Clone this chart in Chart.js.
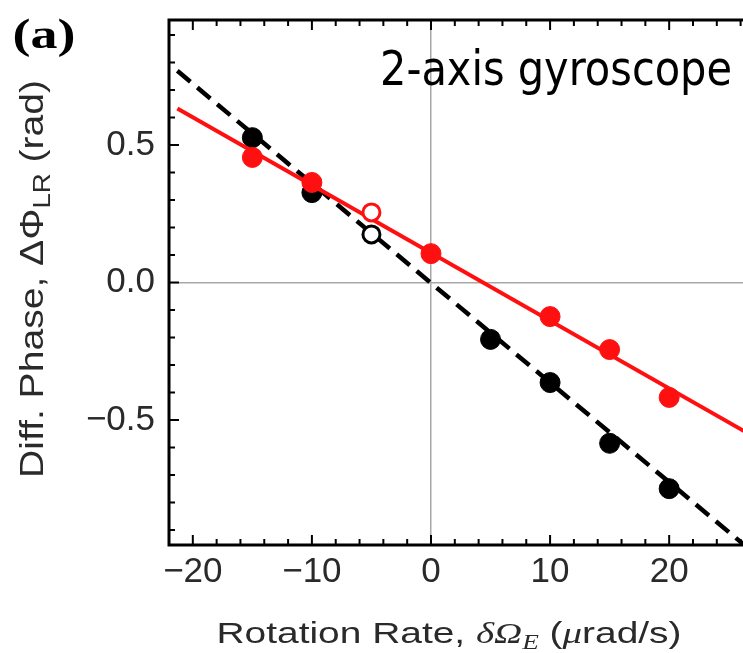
<!DOCTYPE html>
<html>
<head>
<meta charset="utf-8">
<script src="https://cdn.jsdelivr.net/npm/chart.js@4.4.0/dist/chart.umd.min.js"></script>
<style>
  html, body { margin: 0; padding: 0; background: #fff; }
  #wrap { width: 743px; height: 653px; }
</style>
</head>
<body>
<div id="wrap"><canvas id="chart" width="743" height="653"></canvas></div>
<script>
// measured points (rotation rate in urad/s, phase in rad)
const blackX = [-15, -10, 5, 10, 15, 20];
const blackY = [0.527, 0.327, -0.207, -0.364, -0.585, -0.75];
const redX = [-15, -10, 0, 10, 15, 20];
const redY = [0.455, 0.364, 0.105, -0.124, -0.244, -0.418];
// hollow points
const openX = [-5];
const openBlackY = [0.175];
const openRedY = [0.255];
// fitted lines, end points
const fitX = [-21.3, 27];
const fitBlackY = [0.77, -0.98];
const fitRedY = [0.633, -0.558];

const xTicks = [-20, -10, 0, 10, 20];
const xTickLabels = ['\u221220', '\u221210', '0', '10', '20'];
const yTicks = [-0.5, 0, 0.5];
const yTickLabels = ['\u22120.5', '0.0', '0.5'];

const RED = '#ff1010';
const pts = (xs, ys) => xs.map((x, i) => ({ x: x, y: ys[i] }));

// draws a run of text pieces, stretched to a given width
function drawRich(ctx, segs, x, y, width) {
    let w = 0;
    segs.forEach(s => { ctx.font = s.font; s.w = ctx.measureText(s.t).width; w += s.w; });
    const sx = width / w;
    ctx.save();
    ctx.translate(x - width / 2, y);
    ctx.scale(sx, 1);
    let cx = 0;
    segs.forEach(s => {
        ctx.font = s.font;
        ctx.fillText(s.t, cx, s.dy || 0);
        cx += s.w;
    });
    ctx.restore();
}

const frame = {
    id: 'frame',
    afterDatasetsDraw(chart) {
        const ctx = chart.ctx, a = chart.chartArea;
        const xs = chart.scales.x, ys = chart.scales.y;
        ctx.save();
        ctx.strokeStyle = '#000';
        ctx.lineWidth = 3;
        ctx.beginPath();
        ctx.moveTo(a.right + 2, a.top); ctx.lineTo(a.left, a.top);
        ctx.lineTo(a.left, a.bottom); ctx.lineTo(a.right + 2, a.bottom);
        ctx.stroke();
        ctx.lineWidth = 2;
        ctx.beginPath();
        for (let k = -11; k <= 13; k++) {
            const px = xs.getPixelForValue(k * 2);
            if (px < a.left + 2 || px > a.right) continue;
            const len = (k * 2) % 10 === 0 ? 10 : 6;
            ctx.moveTo(px, a.bottom); ctx.lineTo(px, a.bottom - len);
            ctx.moveTo(px, a.top); ctx.lineTo(px, a.top + len);
        }
        for (let k = -9; k <= 9; k++) {
            const py = ys.getPixelForValue(k / 10);
            const len = k % 5 === 0 ? 10 : 6;
            ctx.moveTo(a.left, py); ctx.lineTo(a.left + len, py);
        }
        ctx.stroke();
        ctx.restore();
    },
    afterDraw(chart) {
        const ctx = chart.ctx;
        ctx.save();
        ctx.fillStyle = '#000';
        ctx.textBaseline = 'alphabetic';
        drawRich(ctx, [{ t: '(a)', font: 'bold 42px "Liberation Serif"' }], 44, 48, 63);
        drawRich(ctx, [{ t: '2-axis gyroscope', font: '48px "DejaVu Sans"' }], 556, 85, 352);

        ctx.fillStyle = '#2a2a2a';
        const sans = '"Liberation Sans"';
        drawRich(ctx, [
            { t: 'Rotation Rate, ', font: '30px ' + sans },
            { t: '\u03b4\u03a9', font: 'italic 30px "Liberation Serif"' },
            { t: 'E', font: 'italic 21px "Liberation Serif"', dy: 6 },
            { t: ' (', font: '30px ' + sans },
            { t: '\u03bc', font: 'italic 30px "Liberation Serif"' },
            { t: 'rad/s)', font: '30px ' + sans }
        ], 449, 643, 465);

        ctx.translate(43, 279);
        ctx.rotate(-Math.PI / 2);
        drawRich(ctx, [
            { t: 'Diff. Phase, \u0394\u03a6', font: '34px ' + sans },
            { t: 'LR', font: '24px ' + sans, dy: 7 },
            { t: ' (rad)', font: '34px ' + sans }
        ], 0, 0, 398);
        ctx.restore();
    }
};

const tickFont = { family: 'Liberation Sans', size: 35 };
const zeroGrid = c => (c.tick && c.tick.value === 0) ? '#a8a8a8' : 'rgba(0,0,0,0)';
const noPad = s => { s.paddingTop = 0; s.paddingBottom = 0; s.paddingLeft = 0; s.paddingRight = 0; };

new Chart(document.getElementById('chart').getContext('2d'), {
    type: 'scatter',
    data: {
        datasets: [
            {
                label: 'red hollow',
                data: pts(openX, openRedY),
                pointRadius: 8.5, pointBorderWidth: 3,
                pointBackgroundColor: '#fff', pointBorderColor: RED,
                order: 0
            },
            {
                label: 'red',
                data: pts(redX, redY),
                pointRadius: 10, pointBorderWidth: 1,
                pointBackgroundColor: RED, pointBorderColor: RED,
                order: 1
            },
            {
                label: 'red fit',
                data: pts(fitX, fitRedY),
                showLine: true, borderColor: RED, borderWidth: 4,
                pointRadius: 0,
                order: 2
            },
            {
                label: 'black hollow',
                data: pts(openX, openBlackY),
                pointRadius: 8.5, pointBorderWidth: 3,
                pointBackgroundColor: '#fff', pointBorderColor: '#000',
                order: 3
            },
            {
                label: 'black',
                data: pts(blackX, blackY),
                pointRadius: 10, pointBorderWidth: 1,
                pointBackgroundColor: '#000', pointBorderColor: '#000',
                order: 4
            },
            {
                label: 'black fit',
                data: pts(fitX, fitBlackY),
                showLine: true, borderColor: '#000', borderWidth: 4.5,
                borderDash: [17, 9],
                pointRadius: 0,
                order: 5
            }
        ]
    },
    options: {
        responsive: false,
        animation: false,
        layout: { autoPadding: false, padding: { top: 20, right: 0, left: 0, bottom: 0 } },
        plugins: { legend: { display: false }, tooltip: { enabled: false } },
        scales: {
            x: {
                type: 'linear', min: -22, max: 26.2,
                afterBuildTicks: s => { s.ticks = xTicks.map(v => ({ value: v })); },
                afterFit: s => { s.height = 108; noPad(s); },
                ticks: {
                    font: tickFont, color: '#2a2a2a', padding: 6, maxRotation: 0,
                    callback: v => xTickLabels[xTicks.indexOf(v)]
                },
                grid: { color: zeroGrid, lineWidth: 1.5, drawTicks: false },
                border: { display: false }
            },
            y: {
                type: 'linear', min: -0.955, max: 0.955,
                afterBuildTicks: s => { s.ticks = yTicks.map(v => ({ value: v })); },
                afterFit: s => { s.width = 169; noPad(s); },
                ticks: {
                    font: tickFont, color: '#2a2a2a', padding: 14,
                    callback: v => yTickLabels[yTicks.indexOf(v)]
                },
                grid: { color: zeroGrid, lineWidth: 1.5, drawTicks: false },
                border: { display: false }
            }
        }
    },
    plugins: [frame]
});
</script>
</body>
</html>
